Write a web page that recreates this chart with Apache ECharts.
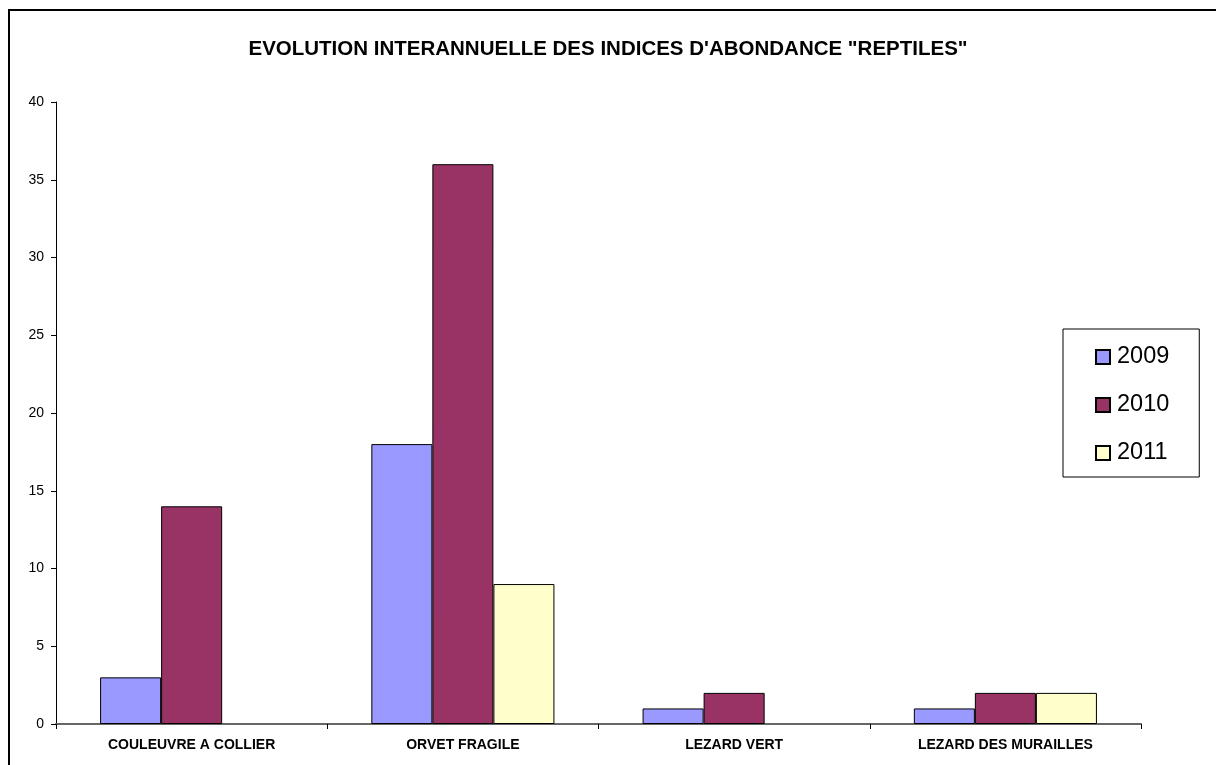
<!DOCTYPE html>
<html>
<head>
<meta charset="utf-8">
<script src="https://cdn.jsdelivr.net/npm/echarts@6/dist/echarts.min.js"></script>
<style>
  html, body { margin: 0; padding: 0; background: #fff; }
  #chart { width: 1216px; height: 765px; }
</style>
</head>
<body>
<div id="chart"></div>
<script>
// Species surveyed
const categories = ['COULEUVRE A COLLIER', 'ORVET FRAGILE', 'LEZARD VERT', 'LEZARD DES MURAILLES'];
// Abundance index per year
const years = ['2009', '2010', '2011'];
const values2009 = [3, 18, 1, 1];
const values2010 = [14, 36, 2, 2];
const values2011 = [0, 9, 0, 2];
const yTicks = { min: 0, max: 40, interval: 5 };

const colors = ['#9999FF', '#993366', '#FFFFCC'];
const FONT = '"Liberation Sans", Arial, sans-serif';

// zero-height bars carry no outline
const toData = arr => arr.map(v => v === 0 ? { value: v, itemStyle: { borderWidth: 0 } } : v);

const seriesValues = [values2009, values2010, values2011];

const chart = echarts.init(document.getElementById('chart'), null, { renderer: 'canvas' });
chart.setOption({
  animation: false,
  backgroundColor: '#fff',
  title: {
    text: 'EVOLUTION INTERANNUELLE DES INDICES D\'ABONDANCE "REPTILES"',
    left: 'center',
    top: 34,
    textStyle: { fontFamily: FONT, fontSize: 20.5, fontWeight: 'bold', color: '#000' }
  },
  graphic: [{
    type: 'rect',
    shape: { x: 9, y: 10, width: 1400, height: 1000 },
    style: { fill: 'none', stroke: '#000', lineWidth: 2 },
    silent: true,
    z: 100
  }],
  legend: {
    orient: 'vertical',
    left: 1063,
    top: 329,
    padding: [16, 30, 12, 32],
    itemWidth: 14,
    itemHeight: 14,
    itemGap: 24,
    borderColor: '#000',
    borderWidth: 1,
    icon: 'rect',
    textStyle: { fontFamily: FONT, fontSize: 23.5, color: '#000', padding: [0, 0, 0, 2] },
    data: years
  },
  grid: { left: 56, right: 75, top: 102, bottom: 41, containLabel: false },
  xAxis: {
    type: 'category',
    data: categories,
    axisLine: { lineStyle: { color: '#666', width: 2 } },
    axisTick: { show: true, length: 5, lineStyle: { color: '#000', width: 1 } },
    axisLabel: { fontFamily: FONT, fontSize: 14, fontWeight: 'bold', color: '#000', margin: 14 }
  },
  yAxis: {
    type: 'value',
    min: yTicks.min,
    max: yTicks.max,
    interval: yTicks.interval,
    splitLine: { show: false },
    axisLine: { show: true, lineStyle: { color: '#000', width: 1 } },
    axisTick: { show: true, length: 5, lineStyle: { color: '#000' } },
    axisLabel: { fontFamily: FONT, fontSize: 14, color: '#000', margin: 12 }
  },
  series: years.map((y, i) => ({
    name: y,
    type: 'bar',
    data: toData(seriesValues[i]),
    barGap: '0%',
    barCategoryGap: '32.5%',
    itemStyle: { color: colors[i], borderColor: '#000', borderWidth: 1 }
  }))
});
</script>
</body>
</html>
